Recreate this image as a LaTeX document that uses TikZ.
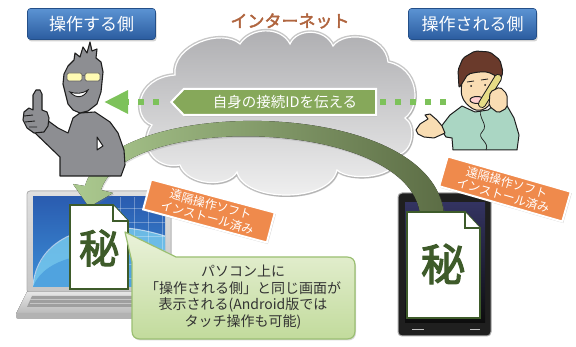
\documentclass[tikz,border=0pt]{standalone}
\usepackage{fontspec}
\newfontfamily\jp{Noto Sans CJK JP}
\newfontfamily\jpb[FakeBold=2.5]{Noto Sans CJK JP}
\usetikzlibrary{shapes.symbols,shadows,arrows.meta}

\definecolor{blueTop}{HTML}{5B93D3}
\definecolor{blueBot}{HTML}{2B5C9F}
\definecolor{blueEdge}{HTML}{244F88}
\definecolor{netText}{HTML}{B0653F}
\definecolor{cloudTop}{HTML}{ADADB0}
\definecolor{cloudBot}{HTML}{F2F2F2}
\definecolor{idGreen}{HTML}{86A85A}
\definecolor{dotGreen}{HTML}{7DC25A}
\definecolor{arrowLight}{HTML}{ABC98F}
\definecolor{arrowDark}{HTML}{5C6D45}
\definecolor{docGreen}{HTML}{3E5B2A}
\definecolor{tagOrange}{HTML}{EF8A4C}
\definecolor{callTop}{HTML}{EAF2DA}
\definecolor{callBot}{HTML}{C2DB9C}
\definecolor{callEdge}{HTML}{9BBF72}
\definecolor{guyGray}{HTML}{8D8E92}
\definecolor{ink}{HTML}{1E1E1E}
\definecolor{shirt}{HTML}{AAD6C3}
\definecolor{skin}{HTML}{F9DDB3}
\definecolor{hair}{HTML}{6A3A2B}
\definecolor{handset}{HTML}{E6DC86}
\definecolor{scrTop}{HTML}{2A5CB0}
\definecolor{scrBot}{HTML}{3C8ED6}
\definecolor{scrCyan}{HTML}{7FD3F3}

\begin{document}
\begin{tikzpicture}[x=1pt,y=-1pt,
  sidelabel/.style={rounded corners=3pt, top color=blueTop, bottom color=blueBot,
    draw=blueEdge, line width=.6pt, minimum width=128pt, minimum height=31pt,
    text=white, font=\jp\fontsize{17}{20}\selectfont,
    drop shadow={opacity=.35, shadow xshift=1pt, shadow yshift=-2pt}},
  signalshape/.style={signal, signal to=west, signal pointer angle=92,
    minimum width=205pt, minimum height=26pt, inner sep=1pt, line width=2pt},
  idlabel/.style={signalshape, fill=idGreen, draw=white, text=white,
    font=\jp\fontsize{14.5}{16}\selectfont,
    drop shadow={opacity=.3, shadow xshift=1pt, shadow yshift=-1.5pt}},
  dotline/.style={draw=dotGreen, line width=6pt, dash pattern=on 6pt off 9pt},
  tag/.style={fill=tagOrange, draw=white, line width=2pt, minimum width=128pt,
    minimum height=31pt, inner sep=1pt, align=center, text=white,
    font=\jp\fontsize{12}{13.5}\selectfont,
    drop shadow={opacity=.35, shadow xshift=1pt, shadow yshift=-1.5pt}},
  docpage/.style={fill=white, draw=docGreen, line width=1.8pt, line join=miter},
  secret/.style={text=docGreen, font=\jpb\fontsize{40}{40}\selectfont, inner sep=0pt},
  guy/.style={fill=guyGray, draw=ink, line width=1.1pt, line join=round},
  caller/.style={draw=ink, line width=1pt, line join=round}]

\useasboundingbox (0,0) rectangle (576,347);
\fill[white] (0,0) rectangle (576,347);

% ---------------- laptop ----------------
\fill[rounded corners=3pt, top color=gray!25, bottom color=gray!45] (27,191) rectangle (171,293);
\draw[gray!60, line width=.8pt, rounded corners=3pt] (27,191) rectangle (171,293);
\fill[top color=scrTop, bottom color=scrBot] (33,197) rectangle (165,287);
\begin{scope}
  \clip (33,197) rectangle (165,287);
  \fill[scrCyan, opacity=.75] (33,287) .. controls (38,235) and (95,214) .. (165,236) -- (165,287) -- cycle;
  \fill[scrBot!70!scrCyan] (33,287) .. controls (45,255) and (100,245) .. (165,262) -- (165,287) -- cycle;
  \draw[white, opacity=.6, line width=1pt] (33,285) .. controls (38,235) and (95,214) .. (165,236);
  \foreach \gx in {120,134,148,162} \draw[white, opacity=.3, line width=.5pt] (\gx,197) -- (\gx,287);
  \foreach \gy in {208,222,236,250,264,278} \draw[white, opacity=.3, line width=.5pt] (110,\gy) -- (165,\gy);
\end{scope}
\fill[top color=gray!20, bottom color=gray!55] (27,292) -- (171,292) -- (178,314) -- (16,314) -- cycle;
\fill[gray!75] (32,296) -- (166,296) -- (170,307) -- (27,307) -- cycle;
\foreach \ky in {299.5,303.5} \draw[gray!45, line width=.5pt] (30,\ky) -- (168,\ky);
\fill[rounded corners=2pt, gray!60] (16,313) rectangle (178,319);

% ---------------- phone ----------------
\fill[rounded corners=4pt, black!88] (398,193) rectangle (491,336);
\draw[rounded corners=4pt, gray!65, line width=1pt] (398,193) rectangle (491,336);
\fill[top color=black!70!blue!60!gray, bottom color=black!95] (405,203) rectangle (485,323);
\draw[gray!50, line width=.6pt] (412,329) -- (424,329) (470,329) -- (480,329);

% ---------------- cloud ----------------
\path[top color=cloudTop, bottom color=cloudBot, draw=white, line width=1.2pt,
      preaction={draw=black!22, line width=4pt},
      drop shadow={opacity=.25, shadow xshift=1.5pt, shadow yshift=-2pt}]
  (175,75) .. controls (172,45) and (222,28) .. (240,44)
  .. controls (250,28) and (280,25) .. (290,44)
  .. controls (297,28) and (325,28) .. (333,46)
  .. controls (345,30) and (385,35) .. (388,62)
  .. controls (418,68) and (422,105) .. (405,118)
  .. controls (416,125) and (414,152) .. (397,155)
  .. controls (400,178) and (350,182) .. (337,170)
  .. controls (330,203) and (245,203) .. (237,172)
  .. controls (228,188) and (188,186) .. (180,165)
  .. controls (155,170) and (138,145) .. (152,125)
  .. controls (132,118) and (135,78) .. (175,75) -- cycle;

\node[text=netText, font=\jpb\fontsize{17}{20}\selectfont] (net) at (290,21) {インターネット};

% ---------------- ID message and dotted links ----------------
% an empty frame of the message sign gives the anchors for the dotted links
\node[signalshape] (idmsg) at (280,102) {};
\coordinate (hearer) at (104,102);
\coordinate (callerpt) at (446,102);
\draw[dotline, shorten <=11pt, -{Triangle[length=24pt,width=22pt]}] (idmsg.west) -- (hearer);
\draw[dotline] (callerpt) -- (idmsg.east);
\node[idlabel] (idmsgtext) at (idmsg.center) {\hspace*{10pt}自身の接続IDを伝える};

% ---------------- large curved arrow ----------------
\fill[left color=arrowLight, right color=arrowDark,
      drop shadow={opacity=.25, shadow xshift=1pt, shadow yshift=-1.5pt}]
  (444,214) .. controls (432,95) and (110,95) .. (85,186)
  -- (73,184) -- (89,207) -- (113,193) -- (101,190)
  .. controls (125,112) and (408,118) .. (420,214) -- cycle;

% ---------------- documents ----------------
\path[docpage] (70,205) -- (113,205) -- (128,221) -- (128,289) -- (70,289) -- cycle;
\path[docpage] (113,205) -- (113,221) -- (128,221);
\node[secret] (docL) at (99,248) {秘};

\path[docpage] (407,212) -- (465,212) -- (480,228) -- (480,318) -- (407,318) -- cycle;
\path[docpage] (465,212) -- (465,228) -- (480,228);
\node[secret, font=\jpb\fontsize{44}{44}\selectfont] (docR) at (443,264) {秘};

% ---------------- tags ----------------
\node[tag, rotate=-15] (tagL) at (209,211) {遠隔操作ソフト\\インストール済み};
\node[tag, rotate=-16] (tagR) at (505,189) {遠隔操作ソフト\\インストール済み};

% ---------------- callout ----------------
\path[top color=callTop, bottom color=callBot, draw=callEdge, line width=1.2pt, line join=round,
      drop shadow={opacity=.3, shadow xshift=1pt, shadow yshift=-1.5pt}]
  (125,232) -- (176,257) -- (347,257)
  .. controls (352,257) and (355,260) .. (355,265) -- (355,331)
  .. controls (355,336) and (352,339) .. (347,339) -- (140,339)
  .. controls (135,339) and (132,336) .. (132,331) -- (132,262) -- cycle;
\node[align=center, text=black!80, font=\jp\fontsize{14}{16.7}\selectfont] (note) at (243,297)
  {パソコン上に\\「操作される側」と同じ画面が\\表示される(Android版では\\タッチ操作も可能)};

% ---------------- person on the left (operator) ----------------
\path[guy] (47,120) -- (58,128) -- (68,133) -- (73,118) -- (80,113) -- (95,112)
  -- (110,122) -- (118,133) -- (124,150) -- (125,165) -- (121,176) -- (60,176)
  -- (60,157) -- (33,131) -- cycle;
\path[fill=white, draw=ink, line width=1pt, line join=round] (97,137) -- (103,146) -- (97,150) -- cycle;
\path[guy] (66,96) -- (63,84) -- (64,74) -- (68,66) -- (74,60) -- (75,53) -- (80,57)
  -- (83,47) -- (87,53) -- (90,42) -- (92,51) -- (97,49) -- (96,58) -- (101,62)
  -- (103,72) -- (101,92) -- (97,104) -- (88,111) -- (80,113) -- (73,110) -- (68,104) -- cycle;
\path[fill=yellow!30, draw=black!60, line width=.8pt, rounded corners=1.5pt] (67,73) rectangle (82,81);
\path[fill=yellow!30, draw=black!60, line width=.8pt, rounded corners=1.5pt] (85,73) rectangle (100,81);
\draw[black!60, line width=.8pt] (82,75) -- (85,75);
\path[fill=white, draw=ink, line width=.9pt] (70,92) .. controls (76,99) and (84,98) .. (88,90)
  .. controls (82,94) and (76,94) .. (70,92) -- cycle;
\path[guy] (33,110) -- (33,95) -- (36,90) -- (40,90) -- (42,94) -- (42,110) -- (47,112)
  -- (49,118) -- (48,126) -- (44,132) -- (34,133) -- (27,128) -- (23,120) -- (24,112) -- (29,108) -- cycle;
\draw[ink, line width=.9pt] (24,116) -- (33,115) (25,122) -- (35,121) (29,127) -- (37,127);

% ---------------- person on the right (caller) ----------------
\path[caller, fill=shirt] (462,106) -- (475,112) -- (488,110) -- (498,102) -- (506,104)
  -- (514,118) -- (519,135) -- (517,150) -- (453,150) -- (452,138) -- (446,137)
  -- (440,128) -- (450,115) -- cycle;
\draw[ink, line width=.7pt] (482,108) .. controls (476,118) and (490,124) .. (482,132)
  .. controls (476,138) and (490,142) .. (486,150);
\path[caller, fill=skin] (442,126) -- (437,120) -- (430,114) -- (425,115) -- (428,119)
  -- (420,124) -- (416,130) -- (418,134) -- (424,137) -- (434,138) -- (445,133) -- cycle;
\path[caller, fill=skin, rounded corners=4pt] (462,78) -- (461,95) -- (466,104) -- (476,111)
  -- (486,109) -- (493,100) -- (497,86) -- (496,74) -- (480,68) -- cycle;
\path[caller, fill=hair, rounded corners=2pt] (459,88) -- (458,70) -- (463,58) -- (475,51)
  -- (490,52) -- (500,60) -- (503,72) -- (499,84) -- (496,76) -- (488,72) -- (478,72)
  -- (468,74) -- (463,82) -- cycle;
\draw[ink, line width=.8pt] (467,82) -- (474,81) (481,80) -- (488,79);
\fill[ink] (471,86) circle (1pt) (485,85) circle (1pt);
\path[caller, fill=pink!70!red!40] (477,100) ellipse (7 and 3.5);
\draw[line width=8pt, line cap=round, ink] (498,78) -- (482,104);
\draw[line width=6pt, line cap=round, handset] (498,78) -- (482,104);
\path[caller, fill=skin, rounded corners=2pt] (490,92) -- (500,87) -- (507,94) -- (507,108)
  -- (498,113) -- (489,106) -- cycle;

% ---------------- side labels ----------------
\node[sidelabel] (opside) at (91.5,24) {操作する側};
\node[sidelabel] (remside) at (472.5,24) {操作される側};

\end{tikzpicture}
\end{document}
